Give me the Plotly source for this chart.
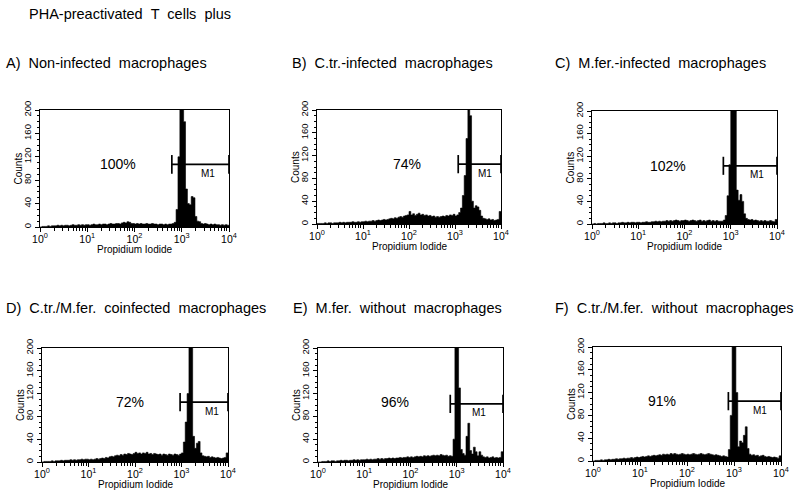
import numpy as np
import plotly.graph_objects as go

# ---------------- data ----------------
main_title = "PHA-preactivated  T  cells  plus"
panel_titles = [
    "A)  Non-infected  macrophages",
    "B)  C.tr.-infected  macrophages",
    "C)  M.fer.-infected  macrophages",
    "D)  C.tr./M.fer.  coinfected  macrophages",
    "E)  M.fer.  without  macrophages",
    "F)  C.tr./M.fer.  without  macrophages",
]
percent_labels = ["100%", "74%", "102%", "72%", "96%", "91%"]
gate_name = "M1"
gate_low = [617, 1175, 692, 933, 724, 759]
gate_high = [10000, 10000, 10000, 10000, 10000, 10000]
gate_level = [107, 105, 103, 105, 102, 105]

# channel grid: 100 log-spaced channels over 4 decades
channel_log_edges = np.linspace(0, 4, 101)

counts_A = ([0,1,1,1,2, 1,2,2,2,3, 2,3,2,3,3, 2,3,4,3,3, 4,3,4,3,4]
            + [4,3,4,5,4, 4,5,4,5,5, 4,5,6,5,5, 6,6,5,7,8, 7,9,8,6,6]
            + [5,6,5,6,5, 5,6,5,5,6, 5,5,4,5,5, 4,5,4,5,5, 6,8]
            + [30,120,230,250,180,65,40,38,52,50,18,10,9]
            + [6,5,6,5,4, 5,4,5,4,4, 3,4,3,4,3])
counts_B = ([1,1,1,1,2, 1,2,2,1,2, 2,2,3,2,3, 2,3,3,3,4, 3,3,4,3,4]
            + [4,5,4,5,5, 6,5,6,7,6, 7,8,7,8,9, 10,9,11,10,12, 13,12,14,15,16]
            + [22,16,18,15,17, 19,16,17,15,16, 14,15,13,14,12, 13,12,13,14,13, 15,14,16,15,17]
            + [14,16,20,28,50, 85,150,240,190,40, 28,32,30,24,14, 10,9,8,9,7, 8,6,7,8,22])
counts_C = ([0,1,0,1,1, 1,2,1,1,2, 1,2,2,1,2, 2,3,2,2,3, 2,3,3,2,3]
            + [3,2,3,3,4, 3,3,4,4,5, 4,5,4,5,5, 6,5,6,5,6, 7,6,5,6,6]
            + [7,6,5,6,7, 6,5,6,7,5, 6,5,6,7,5, 6,5,6,5,5]
            + [5,7,15,50,105, 230,250,200,60,42, 52,40,18,10]
            + [8,7,8,6,7, 6,5,6,5,6, 5,5,6,5,4, 8])
counts_D = ([0,1,1,1,1, 2,1,2,2,2, 3,2,3,3,3, 4,3,4,3,4, 4,5,4,5,5]
            + [4,5,4,5,6, 5,6,7,6,8, 7,9,10,9,11, 12,11,13,12,14, 13,15,14,13,15]
            + [17,15,16,14,16, 15,17,14,15,13, 15,14,13,14,12, 14,13,12,14,13, 12,14,13,12,14]
            + [16,35,70,120,230, 250,45,24,33,36, 16]
            + [11,10,9,10,8, 9,8,7,8,7, 6,7,8,16])
counts_E = ([0,0,1,1,1, 2,1,2,2,1, 2,2,3,2,3, 3,2,3,3,4, 3,4,3,4,4]
            + [4,5,4,5,4, 5,5,6,5,6, 5,6,6,7,6, 7,6,7,7,8, 7,8,8,9,8]
            + [9,8,9,10,9, 10,9,11,10,11, 10,11,12,11,12, 11,13,12,11,12, 10,11]
            + [10,40,220,260,130, 22,15,12,45,68, 20,14,26,18,11, 18,12]
            + [9,8,9,7,8, 9,7,8,7,8, 18])
counts_F = ([0,1,1,1,2, 1,2,2,3,2, 3,3,4,3,4, 4,5,4,5,5, 6,5,6,7,6]
            + [7,8,7,8,9, 8,9,10,9,10, 11,10,12,11,12, 11,13,12,13,12, 11,12,13,12,11]
            + [12,11,12,13,12, 11,12,13,12,11, 12,13,12,11,10, 11,10,9,8,9, 8,7]
            + [20,80,220,260,120, 25,35,32,45,60, 22,12]
            + [10,11,9,10,8, 9,10,8,7,8, 7,6,7,6,5, 9])
panel_counts = [counts_A, counts_B, counts_C, counts_D, counts_E, counts_F]

x_tickvals = [1, 10, 100, 1000, 10000]
x_ticktext = ["10<sup>0</sup>", "10<sup>1</sup>", "10<sup>2</sup>", "10<sup>3</sup>", "10<sup>4</sup>"]
x_minorvals = [m * 10 ** d for d in range(4) for m in range(2, 10)]
y_tickvals = [0, 40, 80, 120, 160, 200]
x_title = "Propidium Iodide"
y_title = "Counts"

# ---------------- layout geometry (pixels) ----------------
W, H = 800, 496
FONT = "Liberation Sans, Arial, sans-serif"
boxes = [(40, 229, 110, 227), (317, 501, 110, 224), (592, 777, 111, 224),
         (42, 228, 348, 462), (318, 503, 348, 462), (593, 781, 347, 461)]
title_pos = [(4, 63), (290, 63), (553, 63), (4, 308), (291, 308), (553, 308)]
pct_pos = [(1.65, 107), (1.96, 105), (1.65, 103), (1.90, 105), (1.67, 105), (1.46, 105)]
m1_pos = [(3.56, 91), (3.66, 89), (3.57, 88), (3.65, 88), (3.48, 86), (3.56, 88)]


def sp(t):
    return t.replace("  ", " \u00a0")


fig = go.Figure()
annotations = []
edges = 10 ** channel_log_edges

for k in range(6):
    n = k + 1
    xa = "x" if n == 1 else f"x{n}"
    ya = "y" if n == 1 else f"y{n}"
    c = panel_counts[k]
    fig.add_trace(go.Scatter(
        x=edges, y=list(c) + [c[-1]], mode="lines",
        line=dict(shape="hv", color="black", width=0.6),
        fill="tozeroy", fillcolor="black",
        xaxis=xa, yaxis=ya, hoverinfo="skip"))
    lo, hi, lv = gate_low[k], gate_high[k], gate_level[k]
    fig.add_trace(go.Scatter(
        x=[lo, lo, None, lo, hi, None, hi, hi],
        y=[lv - 16, lv + 16, None, lv, lv, None, lv - 16, lv + 16],
        mode="lines", line=dict(color="black", width=1.7),
        xaxis=xa, yaxis=ya, hoverinfo="skip"))

    x0, x1, y0, y1 = boxes[k]
    fig.update_layout(**{
        ("xaxis" if n == 1 else f"xaxis{n}"): dict(
            type="log", range=[0, 4], domain=[x0 / W, x1 / W], automargin=False,
            anchor=ya, showline=True, mirror=True, linecolor="black", linewidth=1,
            ticks="outside", ticklen=4, tickwidth=1, tickcolor="black",
            ticklabelstandoff=-2,
            tickvals=x_tickvals, ticktext=x_ticktext,
            tickfont=dict(family=FONT, size=10.5, color="black"),
            showgrid=False, zeroline=False,
            minor=dict(tickvals=x_minorvals, ticks="outside", ticklen=3,
                       tickcolor="black", showgrid=False)),
        ("yaxis" if n == 1 else f"yaxis{n}"): dict(
            range=[0, 200], domain=[1 - y1 / H, 1 - y0 / H], automargin=False,
            anchor=xa, showline=True, mirror=True, linecolor="black", linewidth=1,
            ticks="outside", ticklen=4, tickwidth=1, tickcolor="black",
            tickvals=y_tickvals, tickangle=-90,
            tickfont=dict(family=FONT, size=9.5, color="black"),
            showgrid=False, zeroline=False,
            minor=dict(dtick=10, ticks="outside", ticklen=2,
                       tickcolor="black", showgrid=False)),
    })

    # panel title
    tx, ty = title_pos[k]
    annotations.append(dict(text=sp(panel_titles[k]), xref="paper", yref="paper",
                            x=tx / W, y=1 - ty / H, xanchor="left", yanchor="middle",
                            showarrow=False, font=dict(family=FONT, size=14.5, color="black")))
    # percent label
    px, py = pct_pos[k]
    annotations.append(dict(text=percent_labels[k], xref=xa, yref=ya, x=px, y=py,
                            xanchor="center", yanchor="middle", showarrow=False,
                            font=dict(family=FONT, size=14, color="black")))
    mx, my = m1_pos[k]
    annotations.append(dict(text=gate_name, xref=xa, yref=ya, x=mx, y=my,
                            xanchor="center", yanchor="middle", showarrow=False,
                            font=dict(family=FONT, size=10, color="black")))
    # axis titles
    annotations.append(dict(text=y_title, xref="paper", yref="paper",
                            x=(x0 - 22) / W, y=1 - (y0 + y1) / 2 / H, textangle=-90,
                            xanchor="center", yanchor="middle", showarrow=False,
                            font=dict(family=FONT, size=10, color="black")))
    annotations.append(dict(text=x_title, xref="paper", yref="paper",
                            x=(x0 + x1) / 2 / W, y=1 - (y1 + 22) / H,
                            xanchor="center", yanchor="middle", showarrow=False,
                            font=dict(family=FONT, size=10, color="black")))

annotations.append(dict(text=sp(main_title), xref="paper", yref="paper",
                        x=27 / W, y=1 - 14 / H, xanchor="left", yanchor="middle",
                        showarrow=False, font=dict(family=FONT, size=14.5, color="black")))

fig.update_layout(template="none", width=W, height=H,
                  margin=dict(l=0, r=0, t=0, b=0, autoexpand=False),
                  paper_bgcolor="white", plot_bgcolor="white",
                  showlegend=False, annotations=annotations,
                  font=dict(family=FONT, color="black"))

fig.write_html("out.html", config={"displayModeBar": False},
               post_script="document.body.style.margin='0';document.body.style.padding='0';")
